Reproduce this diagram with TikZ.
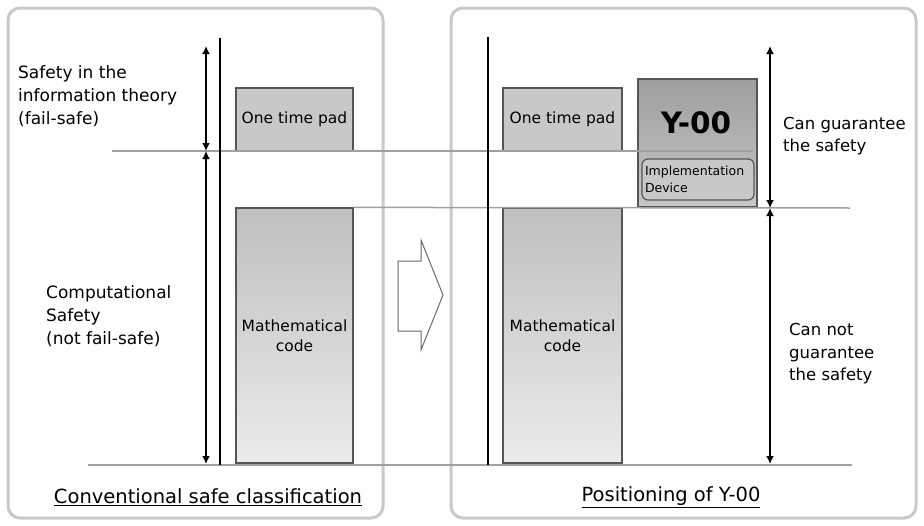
\documentclass[tikz,border=0pt]{standalone}
\usepackage{fontspec}
\setmainfont{DejaVu Sans}
\usetikzlibrary{arrows.meta}
\definecolor{panelc}{HTML}{C8C8C8}
\definecolor{linec}{HTML}{A0A0A0}
\definecolor{boxc}{HTML}{555555}
\definecolor{fillc}{HTML}{C8C8C8}
\tikzset{
  panel/.style={draw=panelc,line width=3pt,rounded corners=12pt},
  hline/.style={draw=linec,line width=1.5pt},
  axis/.style={draw=black,line width=2pt},
  dim/.style={draw=black,line width=2.6pt,{Latex[length=8pt,width=8pt]}-{Latex[length=8pt,width=8pt]}},
  otpbox/.style={draw=boxc,line width=1.2pt,fill=fillc,inner sep=0pt,font=\fontsize{15.5}{20}\selectfont},
  mathbox/.style={draw=boxc,line width=1.2pt,top color=black!25,bottom color=black!8,inner sep=0pt,align=center,font=\fontsize{15.5}{20}\selectfont},
  yobox/.style={draw=boxc,line width=1.2pt,top color=black!38,bottom color=black!22,inner sep=0pt},
  devbox/.style={draw=boxc,line width=1.2pt,fill=fillc,rounded corners=6pt,inner sep=0pt,align=left,font=\fontsize{12.5}{17}\selectfont},
  side/.style={anchor=west,inner sep=0pt,align=left,font=\fontsize{16.5}{22.5}\selectfont},
  title/.style={inner sep=0pt,font=\fontsize{19.5}{24}\selectfont},
}
\begin{document}
\begin{tikzpicture}[x=1pt,y=-1pt]
\useasboundingbox (0,0) rectangle (924,525);
% panels
\draw[panel] (8,8) rectangle (383,518);
\draw[panel] (451,8) rectangle (916,518);
% block arrow
\draw[draw=gray!80!black,line width=1pt,fill=white] (398,261)--(421,261)--(421,240)--(443,295)--(421,350)--(421,331)--(398,331)--cycle;
% boxes
\node[otpbox,minimum width=117pt,minimum height=63pt] (otpL) at (294.5,119.5) {One time pad};
\node[mathbox,minimum width=117pt,minimum height=255pt] (mathL) at (294.5,335.5) {Mathematical\\code};
\node[otpbox,minimum width=119pt,minimum height=63pt] (otpR) at (562.5,119.5) {One time pad};
\node[mathbox,minimum width=119pt,minimum height=255pt] (mathR) at (562.5,335.5) {Mathematical\\code};
\node[yobox,minimum width=119pt,minimum height=128pt] (yoo) at (697.5,143) {};
\node[inner sep=0pt,font=\fontsize{29.5}{31}\selectfont\bfseries] (yootxt) at (696,123) {Y-00};
% horizontal lines
\coordinate (h1a) at (112,151); \coordinate (h1b) at (753,151);
\coordinate (h2b) at (850,208);
\coordinate (h3a) at (88,465); \coordinate (h3b) at (852,465);
\draw[hline] (h1a) -- (h1b);
\draw[hline] (mathL.north east) -- (h2b);
\draw[hline] (h3a) -- (h3b);
\node[devbox,minimum width=112pt,minimum height=41pt,text width=106pt] (dev) at (698,179.5) {Implementation\\Device};
% axes
\coordinate (axLt) at (220,38); \coordinate (axLb) at (220,465);
\coordinate (axRt) at (488,37); \coordinate (axRb) at (488,465);
\draw[axis] (axLt) -- (axLb);
\draw[axis] (axRt) -- (axRb);
% dimension arrows
\coordinate (aLt) at (206,46); \coordinate (aLm) at (206,151); \coordinate (aLb) at (206,464);
\coordinate (aRt) at (770,46); \coordinate (aRm) at (770,208); \coordinate (aRb) at (770,464);
\draw[dim] (aLt) -- (aLm);
\draw[dim] (aLm) -- (aLb);
\draw[dim] (aRt) -- (aRm);
\draw[dim] (aRm) -- (aRb);
% labels
\node[side,font=\fontsize{17}{23}\selectfont] (l1) at (18,96) {Safety in the\\information theory\\(fail-safe)};
\node[side,font=\fontsize{17}{23}\selectfont] (l2) at (46,316) {Computational\\Safety\\(not fail-safe)};
\node[side] (r1) at (783,136) {Can guarantee\\the safety};
\node[side] (r2) at (789,354) {Can not\\guarantee\\the safety};
\node[title] (t1) at (208,497) {\underline{Conventional safe classification}};
\node[title] (t2) at (671,497) {\underline{Positioning of Y-00}};
\end{tikzpicture}
\end{document}
